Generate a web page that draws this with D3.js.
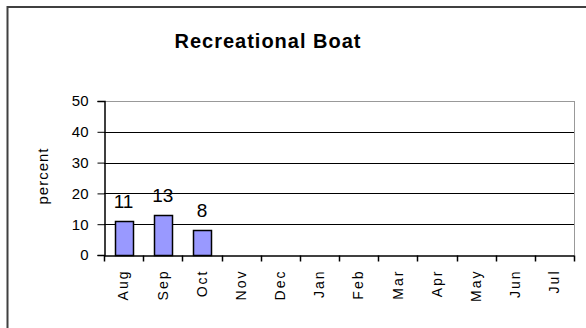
<!DOCTYPE html>
<html>
<head>
<meta charset="utf-8">
<script src="https://cdn.jsdelivr.net/npm/d3@7"></script>
<style>
  body { margin: 0; background: #fff; }
  text { font-family: "Liberation Sans", Arial, sans-serif; }
</style>
</head>
<body>
<svg id="chart" width="586" height="328"></svg>
<script>
var months = ["Aug","Sep","Oct","Nov","Dec","Jan","Feb","Mar","Apr","May","Jun","Jul"];
var values = [11, 13, 8, null, null, null, null, null, null, null, null, null];
var yTicks = [0, 10, 20, 30, 40, 50];

var svg = d3.select("#chart");
var plotL = 104, plotR = 574, plotT = 101, plotB = 255;

// outer frame (runs off the picture right and bottom)
svg.append("path")
    .attr("d", "M7.5,330 V7 H590")
    .attr("fill", "none")
    .attr("stroke", "#404040")
    .attr("stroke-width", 2);

svg.append("text")
    .attr("x", 268).attr("y", 48)
    .attr("text-anchor", "middle")
    .attr("font-size", 20).attr("font-weight", "bold")
    .attr("letter-spacing", 1)
    .text("Recreational Boat");

var x = d3.scaleBand().domain(months).range([plotL, plotR]).paddingInner(0.54).paddingOuter(0.27);
var xb = d3.scaleBand().domain(months).range([plotL, plotR]);
var y = d3.scaleLinear().domain([0, 50]).range([plotB, plotT]);

// gridlines
svg.append("g").selectAll("line")
  .data(yTicks.filter(function(d) { return d > 0; }))
  .enter().append("line")
    .attr("x1", plotL).attr("x2", plotR)
    .attr("y1", function(d) { return Math.round(y(d)) + 0.5; })
    .attr("y2", function(d) { return Math.round(y(d)) + 0.5; })
    .attr("stroke", function(d) { return d == 50 ? "#999" : "#000"; });

// right border
svg.append("line")
    .attr("x1", plotR + 0.5).attr("x2", plotR + 0.5)
    .attr("y1", plotT).attr("y2", plotB)
    .attr("stroke", "#999");

var barData = months.map(function(m, i) { return {m: m, v: values[i]}; })
    .filter(function(d) { return d.v != null; });

// bars
svg.append("g").selectAll("rect")
  .data(barData)
  .enter().append("rect")
    .attr("x", function(d) { return Math.round(x(d.m)) + 0.5; })
    .attr("y", function(d) { return Math.round(y(d.v)) + 0.5; })
    .attr("width", Math.round(x.bandwidth()))
    .attr("height", function(d) { return plotB - Math.round(y(d.v)); })
    .attr("fill", "#9999ff")
    .attr("stroke", "#000")
    .attr("stroke-width", 1.5);

// value labels
svg.append("g").selectAll("text")
  .data(barData)
  .enter().append("text")
    .attr("x", function(d) { return xb(d.m) + xb.bandwidth() / 2; })
    .attr("y", function(d) { return y(d.v) - 13; })
    .attr("text-anchor", "middle")
    .attr("font-size", 19)
    .text(function(d) { return d.v; });

// y axis
var yAxis = svg.append("g")
    .attr("transform", "translate(" + (plotL + 0.5) + ",0)")
    .call(d3.axisLeft(y).tickValues(yTicks).tickSize(7).tickPadding(9));
yAxis.select(".domain").attr("stroke", "#000").attr("stroke-width", 1.5);
yAxis.selectAll("text").attr("font-size", 15).attr("fill", "#000")
    .attr("font-family", "'Liberation Sans', Arial, sans-serif");

// x axis
var xAxis = svg.append("g")
    .attr("transform", "translate(0," + (plotB + 0.5) + ")")
    .call(d3.axisBottom(xb).tickSize(0).tickPadding(0));
xAxis.select(".domain").attr("stroke", "#000").attr("stroke-width", 1.5);
xAxis.selectAll(".tick line").remove();
xAxis.selectAll(".tick text")
    .attr("font-size", 14)
    .attr("letter-spacing", 2)
    .attr("fill", "#000")
    .attr("font-family", "'Liberation Sans', Arial, sans-serif")
    .attr("transform", "rotate(-90)")
    .attr("text-anchor", "end")
    .attr("dy", "0.35em")
    .attr("x", -14).attr("y", 0);

// boundary tick marks on x axis
xAxis.append("g").selectAll("line")
  .data(months.concat(["end"]))
  .enter().append("line")
    .attr("x1", function(d, i) { return Math.round(plotL + i * xb.bandwidth()) + 0.5; })
    .attr("x2", function(d, i) { return Math.round(plotL + i * xb.bandwidth()) + 0.5; })
    .attr("y1", 0).attr("y2", 6)
    .attr("stroke", "#000").attr("stroke-width", 1.5);

// y title
svg.append("text")
    .attr("transform", "translate(48,176) rotate(-90)")
    .attr("text-anchor", "middle")
    .attr("font-size", 15)
    .attr("letter-spacing", 1)
    .text("percent");
</script>
</body>
</html>
